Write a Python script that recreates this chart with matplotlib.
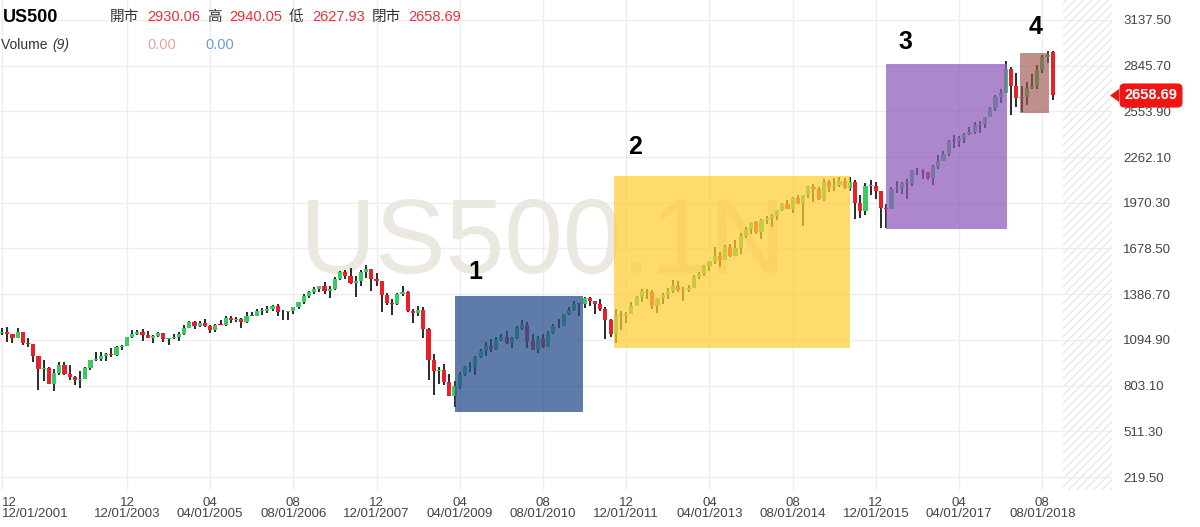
import matplotlib
matplotlib.use("Agg")
import matplotlib.pyplot as plt
from matplotlib.patches import Rectangle, Polygon

# Monthly US500 candles, 12/2001 .. 10/2018
opens = [1139,
         1148, 1130, 1107, 1147, 1077, 1067, 990, 912, 916, 815, 886, 936,
         880, 856, 841, 848, 917, 964, 975, 990, 1008, 996, 1051, 1058,
         1112, 1131, 1145, 1126, 1107, 1121, 1141, 1102, 1104, 1115, 1130, 1174,
         1212, 1181, 1204, 1181, 1157, 1192, 1191, 1234, 1220, 1229, 1207, 1249,
         1248, 1280, 1281, 1295, 1311, 1270, 1270, 1277, 1304, 1336, 1378, 1401,
         1418, 1438, 1407, 1421, 1482, 1531, 1503, 1455, 1474, 1527, 1549, 1481,
         1468, 1379, 1331, 1323, 1386, 1400, 1280, 1267, 1283, 1166, 969, 896,
         903, 826, 735, 798, 873, 919, 919, 987, 1021, 1057, 1036, 1096,
         1115, 1074, 1104, 1169, 1187, 1089, 1031, 1102, 1049, 1141, 1183, 1181,
         1258, 1286, 1327, 1326, 1364, 1345, 1321, 1292, 1219, 1131, 1253, 1247,
         1258, 1312, 1366, 1408, 1398, 1310, 1362, 1379, 1407, 1441, 1412, 1416,
         1426, 1498, 1515, 1569, 1598, 1631, 1606, 1686, 1633, 1682, 1757, 1806,
         1848, 1783, 1859, 1872, 1884, 1924, 1960, 1931, 2003, 1972, 2018, 2068,
         2059, 1995, 2105, 2068, 2086, 2107, 2063, 2104, 1972, 1920, 2079, 2080,
         2044, 1940, 1932, 2060, 2065, 2097, 2099, 2174, 2171, 2168, 2126, 2199,
         2239, 2279, 2364, 2363, 2384, 2412, 2423, 2470, 2472, 2519, 2575, 2648,
         2674, 2824, 2714, 2641, 2648, 2705, 2718, 2816, 2902, 2930]
highs = [1173,
         1176, 1130, 1173, 1147, 1107, 1071, 994, 965, 925, 907, 951, 954,
         935, 864, 896, 924, 966, 1015, 1016, 1011, 1040, 1053, 1064, 1112,
         1155, 1159, 1163, 1151, 1128, 1146, 1141, 1110, 1131, 1143, 1188, 1218,
         1218, 1213, 1229, 1192, 1199, 1219, 1246, 1245, 1243, 1234, 1271, 1276,
         1295, 1297, 1310, 1319, 1326, 1284, 1281, 1307, 1340, 1390, 1407, 1432,
         1441, 1462, 1438, 1499, 1535, 1541, 1556, 1504, 1539, 1576, 1550, 1524,
         1472, 1396, 1359, 1397, 1440, 1405, 1292, 1313, 1304, 1168, 1007, 919,
         944, 877, 832, 888, 930, 956, 993, 1039, 1081, 1101, 1113, 1130,
         1150, 1113, 1181, 1220, 1208, 1131, 1120, 1130, 1149, 1196, 1228, 1263,
         1303, 1344, 1333, 1367, 1371, 1346, 1357, 1307, 1230, 1293, 1278, 1270,
         1334, 1378, 1420, 1422, 1415, 1364, 1392, 1427, 1475, 1470, 1434, 1448,
         1509, 1530, 1570, 1598, 1687, 1654, 1698, 1710, 1730, 1776, 1814, 1849,
         1851, 1867, 1884, 1897, 1925, 1968, 1991, 2005, 2019, 2018, 2076, 2093,
         2072, 2120, 2117, 2126, 2135, 2130, 2133, 2113, 2021, 2094, 2117, 2104,
         2044, 1963, 2073, 2111, 2103, 2121, 2178, 2194, 2188, 2169, 2214, 2278,
         2301, 2371, 2401, 2398, 2418, 2454, 2484, 2491, 2520, 2582, 2657, 2695,
         2873, 2835, 2801, 2718, 2742, 2791, 2848, 2916, 2941, 2940]
lows = [1124,
        1081, 1074, 1105, 1063, 1049, 952, 776, 833, 815, 768, 873, 872,
        841, 807, 789, 847, 903, 963, 963, 960, 988, 995, 1031, 1054,
        1106, 1124, 1087, 1107, 1076, 1113, 1079, 1060, 1102, 1090, 1128, 1173,
        1163, 1180, 1176, 1137, 1146, 1188, 1184, 1202, 1206, 1168, 1202, 1246,
        1245, 1253, 1268, 1280, 1245, 1219, 1224, 1259, 1292, 1327, 1360, 1385,
        1403, 1389, 1364, 1416, 1476, 1484, 1452, 1371, 1439, 1490, 1407, 1436,
        1270, 1317, 1257, 1315, 1374, 1272, 1200, 1248, 1107, 840, 741, 815,
        805, 735, 667, 783, 866, 888, 869, 979, 992, 1020, 1030, 1086,
        1071, 1045, 1102, 1157, 1041, 1028, 1011, 1040, 1049, 1131, 1174, 1181,
        1257, 1282, 1249, 1299, 1311, 1258, 1282, 1102, 1115, 1075, 1159, 1202,
        1258, 1312, 1340, 1358, 1292, 1267, 1325, 1354, 1397, 1403, 1343, 1399,
        1426, 1485, 1501, 1536, 1581, 1560, 1605, 1627, 1633, 1646, 1747, 1768,
        1770, 1738, 1835, 1815, 1860, 1915, 1930, 1905, 1965, 1821, 2001, 1973,
        1988, 1981, 2039, 2048, 2068, 2057, 2044, 1867, 1872, 1894, 2020, 1993,
        1812, 1810, 1932, 2034, 2025, 1992, 2075, 2148, 2119, 2114, 2084, 2188,
        2234, 2271, 2322, 2329, 2353, 2405, 2407, 2417, 2447, 2520, 2557, 2605,
        2673, 2533, 2585, 2553, 2594, 2698, 2699, 2796, 2864, 2628]
closes = [1148,
          1130, 1107, 1147, 1077, 1067, 990, 912, 916, 815, 886, 936, 880,
          856, 841, 848, 917, 964, 975, 990, 1008, 996, 1051, 1058, 1112,
          1131, 1145, 1126, 1107, 1121, 1141, 1102, 1104, 1115, 1130, 1174, 1212,
          1181, 1204, 1181, 1157, 1192, 1191, 1234, 1220, 1229, 1207, 1249, 1248,
          1280, 1281, 1295, 1311, 1270, 1270, 1277, 1304, 1336, 1378, 1401, 1418,
          1438, 1407, 1421, 1482, 1531, 1503, 1455, 1474, 1527, 1549, 1481, 1468,
          1379, 1331, 1323, 1386, 1400, 1280, 1267, 1283, 1166, 969, 896, 903,
          826, 735, 798, 873, 919, 919, 987, 1021, 1057, 1036, 1096, 1115,
          1074, 1104, 1169, 1187, 1089, 1031, 1102, 1049, 1141, 1183, 1181, 1258,
          1286, 1327, 1326, 1364, 1345, 1321, 1292, 1219, 1131, 1253, 1247, 1258,
          1312, 1366, 1408, 1398, 1310, 1362, 1379, 1407, 1441, 1412, 1416, 1426,
          1498, 1515, 1569, 1598, 1631, 1606, 1686, 1633, 1682, 1757, 1806, 1848,
          1783, 1859, 1872, 1884, 1924, 1960, 1931, 2003, 1972, 2018, 2068, 2059,
          1995, 2105, 2068, 2086, 2107, 2063, 2104, 1972, 1920, 2079, 2080, 2044,
          1940, 1932, 2060, 2065, 2097, 2099, 2174, 2171, 2168, 2126, 2199, 2239,
          2279, 2364, 2363, 2384, 2412, 2423, 2470, 2472, 2519, 2575, 2648, 2674,
          2824, 2714, 2641, 2648, 2705, 2718, 2816, 2902, 2914, 2659]

# x tick positions (month index from 12/2001) and their labels
tick_idx = [0, 24, 40, 56, 72, 88, 104, 120, 136, 152, 168, 184, 200]
tick_labels = ["12\n12/01/2001", "12\n12/01/2003", "04\n04/01/2005", "08\n08/01/2006",
               "12\n12/01/2007", "04\n04/01/2009", "08\n08/01/2010", "12\n12/01/2011",
               "04\n04/01/2013", "08\n08/01/2014", "12\n12/01/2015", "04\n04/01/2017",
               "08\n08/01/2018"]
y_ticks = [219.5, 511.3, 803.1, 1094.9, 1386.7, 1678.5, 1970.3, 2262.1, 2553.9, 2845.7, 3137.5]

# highlighted phases: (label, x0, x1, y0, y1, colour, alpha)
phases = [("1", 87.1, 111.7, 635, 1375, (0.16, 0.31, 0.55), 0.75),
          ("2", 117.7, 163.1, 1043, 2141, (1.0, 0.80, 0.20), 0.72),
          ("3", 170.0, 193.3, 1803, 2857, (0.55, 0.35, 0.72), 0.72),
          ("4", 195.8, 201.3, 2544, 2927, (0.62, 0.33, 0.30), 0.65)]

GREEN = "#3cc864"
RED = "#e8202a"
CJK = ["Liberation Sans", "Noto Sans CJK TC", "DejaVu Sans"]

fig = plt.figure(figsize=(12, 5.27), dpi=100)
ax = fig.add_axes([0, 37 / 527, 1112 / 1200, 490 / 527])
ax.set_xlim(-0.4, 213.4)
ax.set_ylim(136.5, 3265)

# grid
for v in y_ticks:
    ax.axhline(v, color="#eeeeee", lw=1, zorder=0)
for t in tick_idx:
    ax.axvline(t, color="#eeeeee", lw=1, zorder=0)

# hatched future area
ax.axvspan(203.9, 213.4, facecolor="none", hatch="////", edgecolor="#e8e8e8", lw=0, zorder=0)

# watermark
ax.text(104, 1700, "US500.1N", fontsize=76, family="Liberation Sans", color="#ebe8e0",
        ha="center", va="center", zorder=0.5)

# candles
for i in range(len(closes)):
    o, h, l, c = opens[i], highs[i], lows[i], closes[i]
    col = GREEN if c >= o else RED
    ax.vlines(i, l, h, color="#2a2a2a", lw=1.4, zorder=2)
    ax.bar(i, max(abs(c - o), 5), bottom=min(o, c), width=0.8, color=col, lw=0, zorder=3)

# phase boxes and numbers
num_pos = [(475, 272), (635, 147), (905, 42), (1036, 27)]
for (lab, x0, x1, y0, y1, col, a), (px, py) in zip(phases, num_pos):
    ax.add_patch(Rectangle((x0, y0), x1 - x0, y1 - y0, facecolor=col, alpha=a, lw=0, zorder=4))
    fig.text(px / 1200, 1 - py / 527, lab, fontsize=18, fontweight="bold",
             family="Liberation Sans", ha="center", va="center")

# axes
for s in ax.spines.values():
    s.set_visible(False)
ax.yaxis.tick_right()
ax.set_yticks(y_ticks)
ax.set_yticklabels([f"{v:.2f}" for v in y_ticks], fontsize=9.5, color="#444444",
                   family="Liberation Sans")
ax.tick_params(axis="y", length=0, pad=8)
ax.set_xticks(tick_idx)
ax.set_xticklabels(tick_labels, fontsize=9.5, color="#444444", family="Liberation Sans",
                   linespacing=0.95)
ax.tick_params(axis="x", length=0, pad=5)
ax.get_xticklabels()[0].set_horizontalalignment("left")

# header
fig.text(3 / 1200, 1 - 17 / 527, "US500", fontsize=13, fontweight="bold",
         family="Liberation Sans", va="center")
header = [(110, "開市", "#333333"), (147, "2930.06", "#e8323c"), (207, "高", "#333333"),
          (229, "2940.05", "#e8323c"), (289, "低", "#333333"), (312, "2627.93", "#e8323c"),
          (372, "閉市", "#333333"), (408, "2658.69", "#e8323c")]
for px, s, col in header:
    fig.text(px / 1200, 1 - 17 / 527, s, fontsize=10.5, color=col, family=CJK, va="center")
fig.text(1 / 1200, 1 - 45 / 527, "Volume ", fontsize=10, color="#333333",
         family="Liberation Sans", va="center")
fig.text(52 / 1200, 1 - 45 / 527, "(9)", fontsize=10, color="#333333", style="italic",
         family="Liberation Sans", va="center")
fig.text(147 / 1200, 1 - 45 / 527, "0.00", fontsize=10.5, color="#eaa2a2",
         family="Liberation Sans", va="center")
fig.text(205 / 1200, 1 - 45 / 527, "0.00", fontsize=10.5, color="#6a9be0",
         family="Liberation Sans", va="center")

# last price tag
fig.text(1151 / 1200, 1 - 95.5 / 527, "2658.69", fontsize=10.5, fontweight="bold", color="white",
         family="Liberation Sans", ha="center", va="center",
         bbox=dict(boxstyle="round,pad=0.3,rounding_size=0.3", fc="#f01414", ec="#f01414"))
fig.add_artist(Polygon([(1110 / 1200, 1 - 95.5 / 527), (1119 / 1200, 1 - 89 / 527),
                        (1119 / 1200, 1 - 102 / 527)], closed=True, transform=fig.transFigure,
                       fc="#f01414", ec="none"))

fig.savefig("out.png", dpi=100)
